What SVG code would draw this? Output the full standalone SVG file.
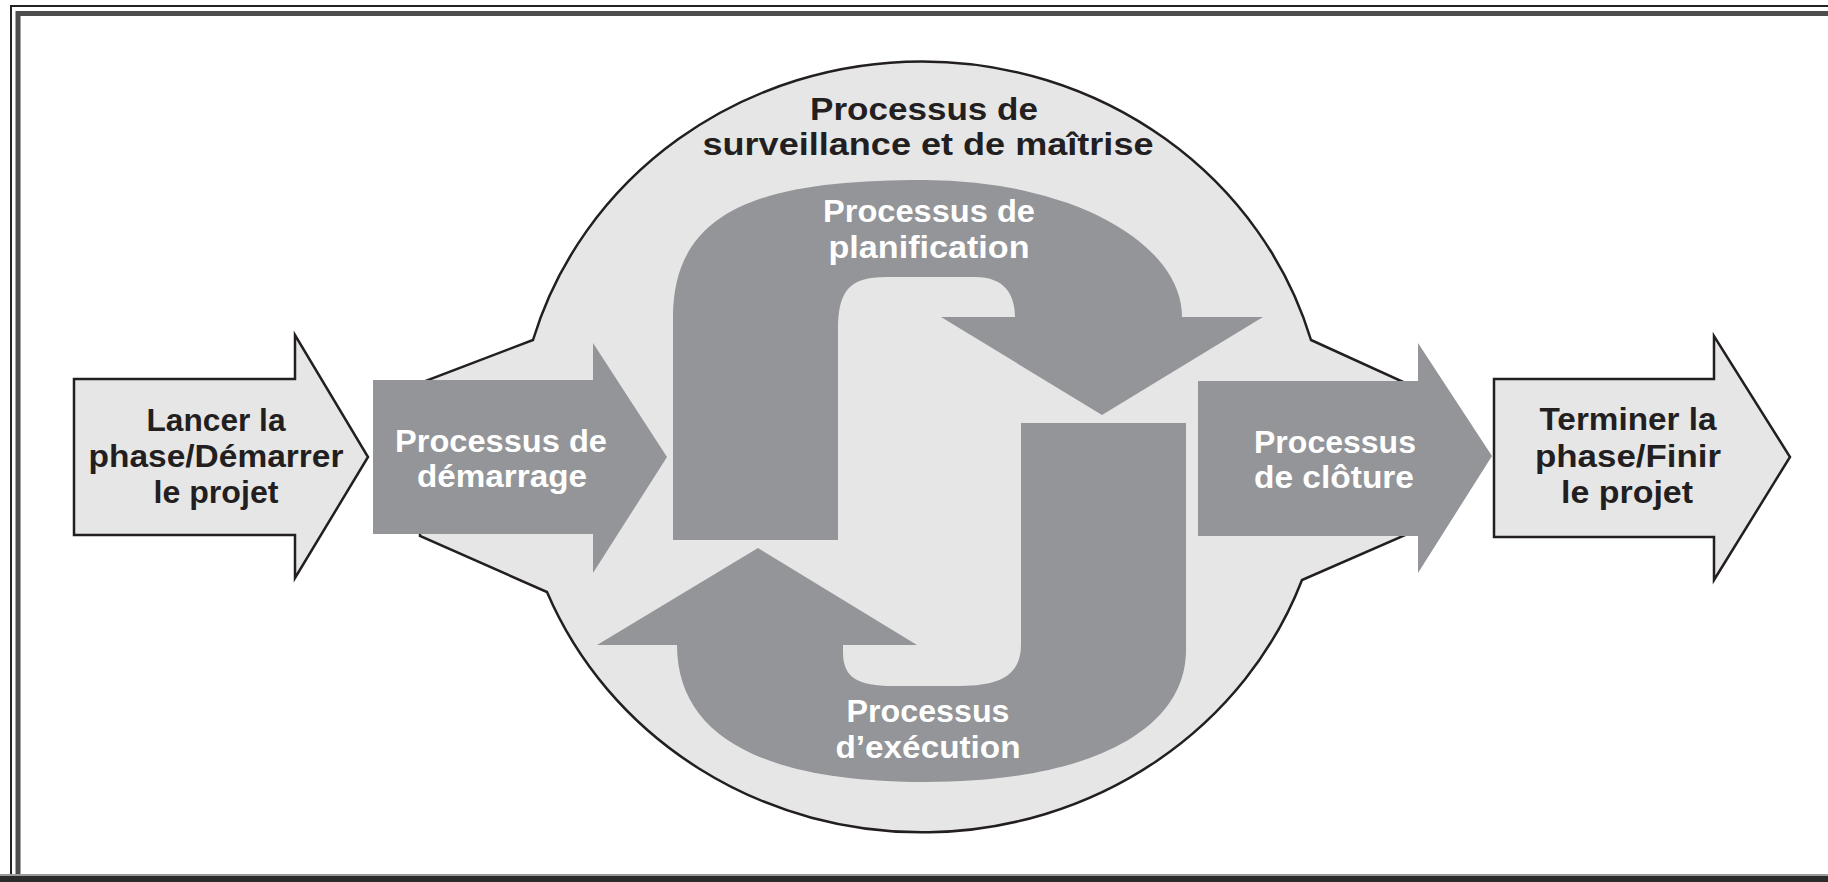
<svg xmlns="http://www.w3.org/2000/svg" width="1828" height="882" viewBox="0 0 1828 882">
<style>
.light{fill:#e6e6e7;stroke:#231f20;stroke-width:2.5;stroke-linejoin:miter}
.gray{fill:#939598;stroke:none}
.dark{font-family:"Liberation Sans",Arial,sans-serif;font-weight:bold;font-size:31px;fill:#231f20;text-anchor:middle}
.white{font-family:"Liberation Sans",Arial,sans-serif;font-weight:bold;font-size:31px;fill:#ffffff;text-anchor:middle}
</style>
<rect x="0" y="0" width="1828" height="882" fill="#ffffff"/>
<g id="frame" fill="none">
<path d="M11 882 V6 H1828" stroke="#222" stroke-width="2"/>
<path d="M18 876 V13.5 H1828" stroke="#4d4d4d" stroke-width="5"/>
<rect x="0" y="876" width="1828" height="6" fill="#2b2b2b"/>
<rect x="0" y="874" width="1828" height="2" fill="#9a9a9a"/>
</g>
<g id="surveillance">
<path class="light" d="M533 340 A405 386 0 0 1 1311 340 L1410 385 L1410 533 L1302 580 A405 386 0 0 1 547 592 L420 536 L420 383 Z"/>
<text class="dark" x="924" y="120" textLength="228" lengthAdjust="spacingAndGlyphs">Processus de</text>
<text class="dark" x="928" y="155" textLength="451" lengthAdjust="spacingAndGlyphs">surveillance et de maîtrise</text>
</g>
<g id="planification">
<path class="gray" d="M673 540 L673 317 C673 205 770 180 925 180 A257 137 0 0 1 1182 317 L1263 317 L1102 415 L941 317 L1015 317 C1015 295 1005 277 975 277 L886 277 C850 277 838 290 838 330 L838 540 Z"/>
<text class="white" x="929" y="222" textLength="212" lengthAdjust="spacingAndGlyphs">Processus de</text>
<text class="white" x="929" y="258" textLength="201" lengthAdjust="spacingAndGlyphs">planification</text>
</g>
<g id="execution">
<path class="gray" d="M1186 423 L1186 650 C1186 730 1090 782 925 782 C770 782 677 740 677 645 L597 645 L758 548 L917 645 L843 645 L843 652 C843 678 858 686 893 686 L960 686 C1000 686 1021 675 1021 645 L1021 423 Z"/>
<text class="white" x="928" y="722" textLength="163" lengthAdjust="spacingAndGlyphs">Processus</text>
<text class="white" x="928" y="758" textLength="185" lengthAdjust="spacingAndGlyphs">d’exécution</text>
</g>
<g id="demarrage">
<polygon class="gray" points="373,380 593,380 593,343 667,457 593,573 593,534 373,534"/>
<text class="white" x="501" y="452" textLength="212" lengthAdjust="spacingAndGlyphs">Processus de</text>
<text class="white" x="502" y="487" textLength="170" lengthAdjust="spacingAndGlyphs">démarrage</text>
</g>
<g id="cloture">
<polygon class="gray" points="1198,381 1418,381 1418,343 1492,456 1418,573 1418,536 1198,536"/>
<text class="white" x="1335" y="453" textLength="162" lengthAdjust="spacingAndGlyphs">Processus</text>
<text class="white" x="1334" y="488" textLength="160" lengthAdjust="spacingAndGlyphs">de clôture</text>
</g>
<g id="lancer">
<polygon class="light" points="74,379 295,379 295,335 368,457 295,578 295,535 74,535"/>
<text class="dark" x="216" y="431" textLength="139" lengthAdjust="spacingAndGlyphs">Lancer la</text>
<text class="dark" x="216" y="467" textLength="255" lengthAdjust="spacingAndGlyphs">phase/Démarrer</text>
<text class="dark" x="216" y="503" textLength="125" lengthAdjust="spacingAndGlyphs">le projet</text>
</g>
<g id="terminer">
<polygon class="light" points="1494,379 1714,379 1714,336 1790,457 1714,580 1714,537 1494,537"/>
<text class="dark" x="1628" y="430" textLength="177" lengthAdjust="spacingAndGlyphs">Terminer la</text>
<text class="dark" x="1628" y="467" textLength="186" lengthAdjust="spacingAndGlyphs">phase/Finir</text>
<text class="dark" x="1627" y="503" textLength="132" lengthAdjust="spacingAndGlyphs">le projet</text>
</g>
<g id="connectors"/>
</svg>
